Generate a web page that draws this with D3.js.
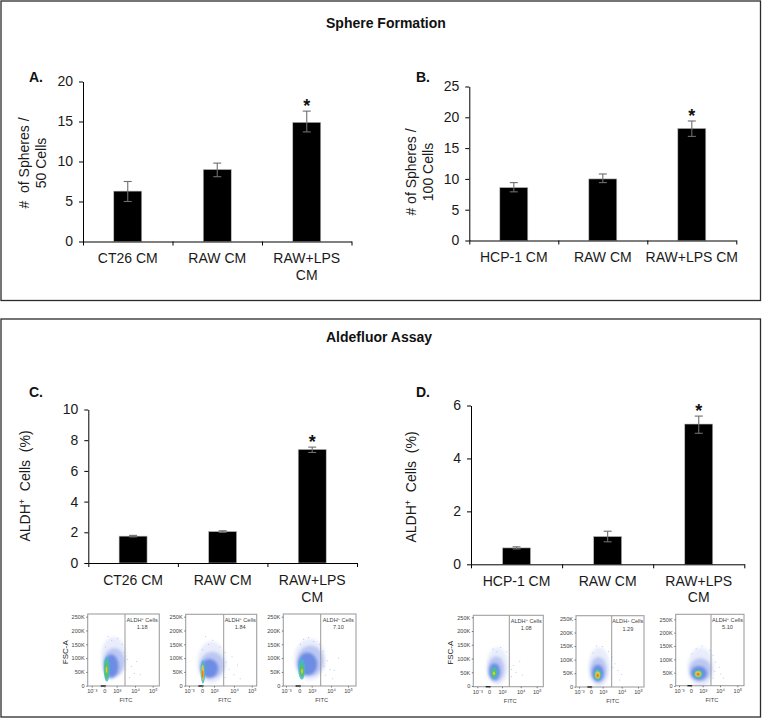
<!DOCTYPE html>
<html>
<head>
<meta charset="utf-8">
<script src="https://cdn.jsdelivr.net/npm/d3@7"></script>
<style>
  html, body { margin: 0; padding: 0; background: #fff; }
  svg { display: block; }
  text { font-family: "Liberation Sans", Arial, sans-serif; }
</style>
</head>
<body>
<script>
// bar data
const categoriesA = ["CT26 CM", "RAW CM", "RAW+LPS\nCM"];
const valuesA = [6.3, 9.0, 14.9];
const upperA = [7.5, 9.8, 16.3];
const lowerA = [5.0, 8.1, 13.7];
const ticksA = [0, 5, 10, 15, 20];

const categoriesB = ["HCP-1 CM", "RAW CM", "RAW+LPS CM"];
const valuesB = [8.6, 10.0, 18.2];
const upperB = [9.4, 10.8, 19.4];
const lowerB = [7.9, 9.4, 16.9];
const ticksB = [0, 5, 10, 15, 20, 25];

const categoriesC = ["CT26 CM", "RAW CM", "RAW+LPS\nCM"];
const valuesC = [1.75, 2.05, 7.4];
const upperC = [1.8, 2.1, 7.55];
const lowerC = [1.7, 2.0, 7.2];
const ticksC = [0, 2, 4, 6, 8, 10];

const categoriesD = ["HCP-1 CM", "RAW CM", "RAW+LPS\nCM"];
const valuesD = [0.62, 1.05, 5.3];
const upperD = [0.66, 1.25, 5.6];
const lowerD = [0.58, 0.85, 4.95];
const ticksD = [0, 2, 4, 6];

// flow plots. fitc is in tick steps: 0 = 10^-3, 1 = 0, 2 = 10^3, 3 = 10^4, 4 = 10^5
const fitcLabels = ["10\u207B\u00B3", "0", "10\u00B3", "10\u2074", "10\u2075"];
const fscTicks = [0, 50, 100, 150, 200, 250];
const gateValues = ["1.18", "1.84", "7.10", "1.08", "1.29", "5.10"];
const densityColors = ["#c9d2f5", "#8fa3ec", "#4a72dc", "#3fbcc8", "#5cc060", "#d9c83c", "#e0802c"];
const densityAlpha = [0.4, 0.5, 0.7, 0.85, 0.95, 1, 1];

// density patches: fitc, fsc (K), fitc radius, fsc radius, colour level
const densityC1 = [
  [1.75, 105, 1.0, 72, 0], [1.8, 85, 0.85, 52, 1], [1.55, 70, 0.6, 44, 2],
  [1.2, 60, 0.24, 45, 3], [1.18, 58, 0.15, 34, 4], [1.18, 58, 0.07, 12, 5]
];
const densityC2 = [
  [1.8, 85, 1.1, 76, 0], [1.85, 75, 0.95, 48, 1], [1.6, 62, 0.7, 36, 2],
  [1.08, 50, 0.18, 42, 3], [1.06, 48, 0.11, 28, 5], [1.05, 42, 0.07, 14, 6]
];
const densityC3 = [
  [1.85, 95, 1.2, 76, 0], [1.9, 90, 1.0, 56, 1], [1.65, 78, 0.75, 42, 2],
  [1.2, 60, 0.26, 38, 3], [1.22, 55, 0.16, 24, 4], [1.22, 52, 0.07, 9, 5]
];
const densityD1 = [
  [1.65, 72, 0.92, 68, 0], [1.55, 62, 0.72, 46, 1], [1.42, 52, 0.5, 32, 2],
  [1.4, 48, 0.3, 22, 3], [1.38, 47, 0.2, 14, 4], [1.38, 46, 0.1, 7, 5]
];
const densityD2 = [
  [1.7, 72, 0.92, 74, 0], [1.65, 62, 0.72, 48, 1], [1.6, 50, 0.52, 32, 2],
  [1.58, 44, 0.34, 22, 3], [1.58, 43, 0.22, 14, 5], [1.58, 41, 0.1, 7, 6]
];
const densityD3 = [
  [1.85, 70, 1.12, 74, 0], [1.8, 60, 0.95, 44, 1], [1.68, 48, 0.7, 27, 2],
  [1.62, 45, 0.42, 17, 3], [1.62, 45, 0.27, 11, 5], [1.62, 44, 0.13, 6, 6]
];

// stray events around each cloud: fitc, fsc (K)
const strayC1 = [[2.4, 120], [2.6, 95], [2.8, 70], [2.95, 45], [3.1, 88], [2.7, 30], [3.3, 40], [1.3, 178], [2.05, 172], [2.3, 150], [1.6, 165], [1.1, 140], [2.5, 60]];
const strayC2 = [[2.6, 85], [2.75, 60], [3.0, 40], [3.2, 75], [2.9, 105], [2.55, 30], [1.3, 178], [1.9, 165], [2.3, 140], [3.35, 25], [1.55, 150], [1.05, 130], [2.55, 120]];
const strayC3 = [[2.6, 125], [2.8, 90], [2.95, 60], [3.2, 55], [3.45, 100], [2.7, 38], [1.35, 168], [1.75, 175], [2.4, 150], [3.1, 25], [1.1, 150], [2.1, 160], [2.65, 70]];
const strayD1 = [[2.4, 105], [2.6, 75], [2.75, 50], [2.95, 90], [2.5, 35], [1.3, 135], [1.9, 140], [2.25, 125], [3.1, 40], [1.6, 125], [2.5, 60]];
const strayD2 = [[2.5, 110], [2.65, 85], [2.8, 60], [3.0, 45], [2.45, 30], [1.5, 150], [2.0, 148], [2.3, 130], [2.9, 25], [1.2, 125], [2.55, 70]];
const strayD3 = [[2.6, 115], [2.75, 90], [2.95, 70], [3.05, 45], [2.6, 30], [1.45, 140], [1.95, 150], [2.4, 135], [3.2, 30], [1.1, 120], [2.7, 55]];

const width = 762;
const height = 719;
const barWidth = 28;
const capWidth = 8;

const svg = d3.select("body").append("svg")
  .attr("width", width)
  .attr("height", height);

const defs = svg.append("defs");
[["soft", 1.6], ["core", 0.6]].forEach(f => {
  defs.append("filter")
    .attr("id", f[0])
    .attr("x", "-60%").attr("y", "-60%")
    .attr("width", "220%").attr("height", "220%")
    .append("feGaussianBlur").attr("stdDeviation", f[1]);
});

svg.append("rect").attr("width", width).attr("height", height).attr("fill", "#fff");

// outer boxes
[[1, 1, 759.5, 299.5], [1, 319, 759.5, 398]].forEach(b => {
  svg.append("rect")
    .attr("x", b[0]).attr("y", b[1])
    .attr("width", b[2]).attr("height", b[3])
    .attr("fill", "none")
    .attr("stroke", "#2b2b2b")
    .attr("stroke-width", 1.3);
});

function title(label, x, y) {
  svg.append("text")
    .attr("x", x).attr("y", y)
    .attr("font-size", 14)
    .attr("font-weight", "bold")
    .attr("fill", "#111")
    .text(label);
}

title("Sphere Formation", 326, 28);
title("Aldefluor Assay", 326, 342);
title("A.", 29, 82);
title("B.", 416, 82);
title("C.", 29, 397);
title("D.", 416, 397);

function makeBarChart(o) {
  const x = d3.scaleBand().domain(o.categories).range([o.left, o.right]);
  const y = d3.scaleLinear().domain([0, d3.max(o.ticks)]).range([o.bottom, o.top]);
  const g = svg.append("g");

  const bars = g.selectAll(".bar").data(o.values).join("g");
  const cx = (d, i) => x(o.categories[i]) + x.bandwidth() / 2;

  bars.append("rect")
    .attr("x", (d, i) => cx(d, i) - barWidth / 2)
    .attr("y", d => y(d))
    .attr("width", barWidth)
    .attr("height", d => o.bottom - y(d))
    .attr("fill", "#000")
    .attr("stroke", "#bdbdbd")
    .attr("stroke-width", 0.6);

  bars.append("line")
    .attr("x1", cx).attr("x2", cx)
    .attr("y1", (d, i) => y(o.upper[i]))
    .attr("y2", (d, i) => y(o.lower[i]));
  [o.upper, o.lower].forEach(end => {
    bars.append("line")
      .attr("x1", (d, i) => cx(d, i) - capWidth / 2)
      .attr("x2", (d, i) => cx(d, i) + capWidth / 2)
      .attr("y1", (d, i) => y(end[i]))
      .attr("y2", (d, i) => y(end[i]));
  });
  bars.selectAll("line").attr("stroke", "#6e6e6e").attr("stroke-width", 1.1);

  // significance star sits on the tallest bar
  const top = o.values.length - 1;
  g.append("text")
    .attr("x", cx(o.values[top], top))
    .attr("y", y(o.upper[top]) + 1)
    .attr("text-anchor", "middle")
    .attr("font-size", 18)
    .attr("font-weight", "bold")
    .attr("fill", "#111")
    .text("*");

  const yAxis = g.append("g")
    .attr("transform", `translate(${o.left},0)`)
    .call(d3.axisLeft(y).tickValues(o.ticks).tickFormat(d3.format("d")).tickSize(4).tickSizeOuter(0).tickPadding(6));
  yAxis.selectAll("text").attr("font-size", 14).attr("font-family", null).attr("fill", "#1a1a1a");

  const xAxis = g.append("g")
    .attr("transform", `translate(0,${o.bottom})`)
    .call(d3.axisBottom(x).tickSize(0));
  xAxis.selectAll("text")
    .attr("font-size", 14)
    .attr("font-family", null)
    .attr("fill", "#1a1a1a")
    .attr("dy", null)
    .attr("y", o.labelY)
    .each(function(d) {
      const t = d3.select(this).text(null);
      d.split("\n").forEach((line, i) => {
        t.append("tspan").attr("x", 0).attr("y", o.labelY + i * 16.5).text(line);
      });
    });

  const edges = o.categories.map(c => x(c)).concat(o.right);
  xAxis.selectAll(".edge").data(edges).join("line")
    .attr("x1", d => d + 0.5).attr("x2", d => d + 0.5)
    .attr("y1", 0).attr("y2", 4)
    .attr("stroke", "#000");

  o.yLabel.forEach((line, i) => {
    const t = g.append("text")
      .attr("transform", `translate(${o.yLabelX + i * 16.7},${o.yLabelY}) rotate(-90)`)
      .attr("text-anchor", "middle")
      .attr("font-size", 14)
      .attr("fill", "#1a1a1a")
      .attr("xml:space", "preserve");
    if (line.includes("+")) {
      const parts = line.split("+");
      t.append("tspan").text(parts[0]);
      t.append("tspan").attr("font-size", 9).attr("dy", -5).text("+");
      t.append("tspan").attr("dy", 5).text(parts[1]);
    } else {
      t.text(line);
    }
  });
}

makeBarChart({
  categories: categoriesA, values: valuesA, upper: upperA, lower: lowerA, ticks: ticksA,
  left: 83, right: 351.5, top: 81.5, bottom: 241.5, labelY: 21.5,
  yLabel: ["#  of Spheres /", "50 Cells"], yLabelX: 29, yLabelY: 163
});
makeBarChart({
  categories: categoriesB, values: valuesB, upper: upperB, lower: lowerB, ticks: ticksB,
  left: 469.3, right: 736.3, top: 86.5, bottom: 240.5, labelY: 21,
  yLabel: ["# of Spheres /", "100 Cells"], yLabelX: 416, yLabelY: 172
});
makeBarChart({
  categories: categoriesC, values: valuesC, upper: upperC, lower: lowerC, ticks: ticksC,
  left: 88.3, right: 357, top: 409.5, bottom: 563, labelY: 22,
  yLabel: ["ALDH+  Cells  (%)"], yLabelX: 30, yLabelY: 486
});
makeBarChart({
  categories: categoriesD, values: valuesD, upper: upperD, lower: lowerD, ticks: ticksD,
  left: 471, right: 744.3, top: 405.5, bottom: 564.3, labelY: 21.5,
  yLabel: ["ALDH+  Cells  (%)"], yLabelX: 416, yLabelY: 487
});

function makeFlowPlot(o) {
  const x = d3.scaleLinear().domain([0, 1, 2, 3, 4]).range(o.fitcPx);
  const y = d3.scaleLinear().domain([0, 250]).range([o.y0, o.y250]);
  const g = svg.append("g");

  // outer cloud gets a wide blur, the hot core a narrow one
  [["soft", o.density.filter(d => d[4] < 3)], ["core", o.density.filter(d => d[4] >= 3)]].forEach(layer => {
    g.append("g")
      .attr("filter", `url(#${layer[0]})`)
      .selectAll("ellipse").data(layer[1]).join("ellipse")
      .attr("cx", d => x(d[0]))
      .attr("cy", d => y(d[1]))
      .attr("rx", d => x(d[2]) - x(0))
      .attr("ry", d => y(0) - y(d[3]))
      .attr("fill", d => densityColors[d[4]])
      .attr("fill-opacity", d => densityAlpha[d[4]]);
  });

  g.append("g").selectAll("circle").data(o.stray).join("circle")
    .attr("cx", d => x(d[0]))
    .attr("cy", d => y(d[1]))
    .attr("r", 0.5)
    .attr("fill", "#a9b6ee");

  // frame and gate
  g.append("rect")
    .attr("x", o.frame[0]).attr("y", o.frame[1])
    .attr("width", o.frame[2] - o.frame[0])
    .attr("height", o.frame[3] - o.frame[1])
    .attr("fill", "none")
    .attr("stroke", "#a0a0a0")
    .attr("stroke-width", 1.1);
  g.append("line")
    .attr("x1", o.gate).attr("x2", o.gate)
    .attr("y1", o.frame[1]).attr("y2", o.frame[3])
    .attr("stroke", "#999")
    .attr("stroke-width", 1);
  g.append("line")
    .attr("x1", x(0.72)).attr("x2", x(1.12))
    .attr("y1", o.frame[3]).attr("y2", o.frame[3])
    .attr("stroke", "#222")
    .attr("stroke-width", 1.4);

  const xAxis = g.append("g")
    .attr("transform", `translate(0,${o.frame[3]})`)
    .call(d3.axisBottom(x).tickValues([0, 1, 2, 3, 4]).tickFormat(i => fitcLabels[i]).tickSize(1.5).tickPadding(1.5));
  const yAxis = g.append("g")
    .attr("transform", `translate(${o.frame[0]},0)`)
    .call(d3.axisLeft(y).tickValues(fscTicks).tickFormat(d => d ? d + "K" : "0").tickSize(1.5).tickPadding(1.5));
  [xAxis, yAxis].forEach(a => {
    a.select(".domain").remove();
    a.selectAll("line").attr("stroke", "#777");
    a.selectAll("text").attr("font-size", 5.6).attr("font-family", null).attr("fill", "#444");
  });

  const midGate = (o.gate + o.frame[2]) / 2;
  const gateLabel = g.append("text")
    .attr("x", midGate).attr("y", o.frame[1] + 7.5)
    .attr("text-anchor", "middle")
    .attr("font-size", 5.6)
    .attr("fill", "#444");
  gateLabel.append("tspan").text("ALDH");
  gateLabel.append("tspan").attr("font-size", 3.8).attr("dy", -1.6).text("+");
  gateLabel.append("tspan").attr("dy", 1.6).text(" Cells");
  g.append("text")
    .attr("x", midGate).attr("y", o.frame[1] + 15)
    .attr("text-anchor", "middle")
    .attr("font-size", 5.6)
    .attr("fill", "#444")
    .text(o.gateValue);

  g.append("text")
    .attr("x", o.gate + 1).attr("y", o.frame[3] + 16)
    .attr("text-anchor", "middle")
    .attr("font-size", 5.8)
    .attr("fill", "#444")
    .text("FITC");

  if (o.fscX) {
    g.append("text")
      .attr("transform", `translate(${o.fscX},${(o.y0 + o.y250) / 2 + 1}) rotate(-90)`)
      .attr("text-anchor", "middle")
      .attr("font-size", 8)
      .attr("fill", "#222")
      .text("FSC-A");
  }
}

makeFlowPlot({
  density: densityC1, stray: strayC1, gateValue: gateValues[0],
  frame: [87.7, 614, 159.3, 686], gate: 125, y0: 685.7, y250: 616.7,
  fitcPx: [91.7, 104.3, 116.7, 135, 152.7], fscX: 68
});
makeFlowPlot({
  density: densityC2, stray: strayC2, gateValue: gateValues[1],
  frame: [185.7, 614.3, 256.7, 686], gate: 223.7, y0: 685.7, y250: 616.7,
  fitcPx: [189, 202, 214, 234, 251.7]
});
makeFlowPlot({
  density: densityC3, stray: strayC3, gateValue: gateValues[2],
  frame: [283.3, 614, 356, 686], gate: 320.7, y0: 685.7, y250: 616.7,
  fitcPx: [286, 299.3, 311.7, 331, 348]
});
makeFlowPlot({
  density: densityD1, stray: strayD1, gateValue: gateValues[3],
  frame: [473.3, 615.3, 543.3, 686.7], gate: 509.3, y0: 686, y250: 617.3,
  fitcPx: [477.3, 489, 502, 520.7, 536.7], fscX: 453
});
makeFlowPlot({
  density: densityD2, stray: strayD2, gateValue: gateValues[4],
  frame: [576, 615.7, 644, 687], gate: 611.7, y0: 686.7, y250: 619,
  fitcPx: [579, 590.7, 602.7, 621.7, 638]
});
makeFlowPlot({
  density: densityD3, stray: strayD3, gateValue: gateValues[5],
  frame: [675.7, 614.3, 744, 685.7], gate: 711, y0: 686, y250: 619.3,
  fitcPx: [679, 690.7, 702.7, 720, 737.3]
});
</script>
</body>
</html>
